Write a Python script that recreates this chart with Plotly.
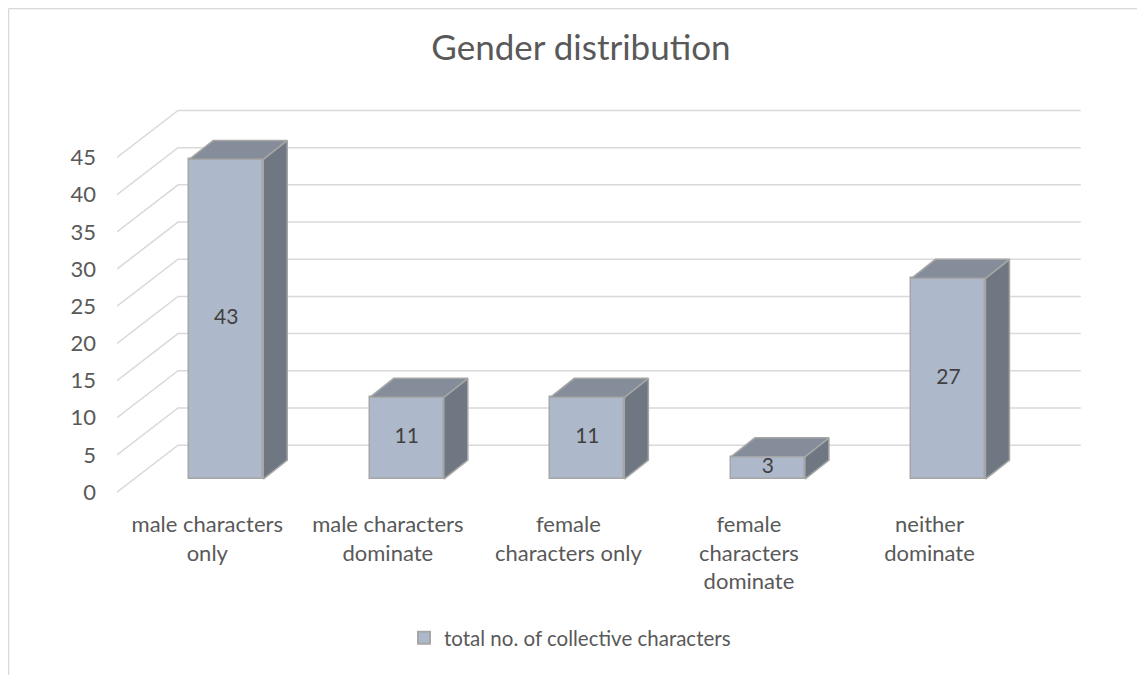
import plotly.graph_objects as go

# ---------------- data ----------------
categories = [
    "male characters<br>only",
    "male characters<br>dominate",
    "female<br>characters only",
    "female<br>characters<br>dominate",
    "neither<br>dominate",
]
values = [43, 11, 11, 3, 27]
series_name = "total no. of collective characters"
y_ticks = [0, 5, 10, 15, 20, 25, 30, 35, 40, 45]
title_text = "Gender distribution"

# ---------------- style / pseudo-3D geometry ----------------
FONT = "Lato"
TXT = "#595959"
FRONT = "#ADB9CA"
TOP = "#848D99"
SIDE = "#6F7782"
EDGE = "#A6A6A6"
GRID = "#D9D9D9"

W, H = 1145, 675
OFF = 8  # page body margin offset
ML, MR, MT, MB = 117 - OFF, 44 + OFF, 98 - OFF, 168 + OFF
X0, X1 = -0.5, 4.95
Y0, Y1 = -2, 53

WALL_DX, WALL_DY = 0.338, 6.32       # floor depth (front edge -> back wall)
BAR_SHIFT_X, BAR_BASE = 0.105, 1.75  # bar front plane position
BAR_W = 0.41
BAR_DX, BAR_DY = 0.133, 2.55         # bar depth

n = len(categories)
xs = list(range(n))
bx = [x + BAR_SHIFT_X for x in xs]

fig = go.Figure()

# gridlines: floor diagonal + back wall horizontal (axis decoration)
shapes = []
for v in y_ticks:
    path = (f"M {X0},{v} L {X0 + WALL_DX},{v + WALL_DY} "
            f"L {n - 0.5 + WALL_DX},{v + WALL_DY}")
    shapes.append(dict(type="path", path=path, xref="x", yref="y",
                       line=dict(color=GRID, width=1.5), layer="below"))


def px_to_paper_x(px):
    return (px - ML) / (W - ML - MR)


def px_to_paper_y(py):
    return (H - MB - py) / (H - MT - MB)


# chart border (top and left edges visible)
shapes.append(dict(type="line", xref="paper", yref="paper",
                   x0=px_to_paper_x(0.5), x1=px_to_paper_x(W + 5),
                   y0=px_to_paper_y(0.5), y1=px_to_paper_y(0.5),
                   line=dict(color=GRID, width=1.6), layer="below"))
shapes.append(dict(type="line", xref="paper", yref="paper",
                   x0=px_to_paper_x(0.5), x1=px_to_paper_x(0.5),
                   y0=px_to_paper_y(0.5), y1=px_to_paper_y(H + 5),
                   line=dict(color=GRID, width=1.6), layer="below"))

# front faces
fig.add_trace(go.Bar(
    x=bx, y=values, base=[BAR_BASE] * n, width=BAR_W,
    name=series_name,
    marker=dict(color=FRONT, line=dict(color=EDGE, width=1.5)),
    hoverinfo="skip", showlegend=True,
))

# side faces and top faces
side_x, side_y, top_x, top_y = [], [], [], []
for c, v in zip(bx, values):
    xl, xr = c - BAR_W / 2, c + BAR_W / 2
    yb, yt = BAR_BASE, BAR_BASE + v
    side_x += [xr, xr + BAR_DX, xr + BAR_DX, xr, xr, None]
    side_y += [yb, yb + BAR_DY, yt + BAR_DY, yt, yb, None]
    top_x += [xl, xl + BAR_DX, xr + BAR_DX, xr, xl, None]
    top_y += [yt, yt + BAR_DY, yt + BAR_DY, yt, yt, None]

fig.add_trace(go.Scatter(x=side_x, y=side_y, mode="lines", fill="toself",
                         fillcolor=SIDE, line=dict(color=EDGE, width=1.5),
                         hoverinfo="skip", showlegend=False))
fig.add_trace(go.Scatter(x=top_x, y=top_y, mode="lines", fill="toself",
                         fillcolor=TOP, line=dict(color=EDGE, width=1.5),
                         hoverinfo="skip", showlegend=False))

# data labels
fig.add_trace(go.Scatter(
    x=bx, y=[BAR_BASE + v / 2 for v in values], mode="text",
    text=[str(v) for v in values],
    textfont=dict(family=FONT, size=21, color="#404040"),
    hoverinfo="skip", showlegend=False,
))

fig.update_layout(
    width=W, height=H,
    margin=dict(l=ML, r=MR, t=MT, b=MB),
    paper_bgcolor="white", plot_bgcolor="white",
    font=dict(family=FONT, color=TXT, size=22),
    title=dict(text=title_text, x=(581 - OFF) / W, xref="container",
               xanchor="center",
               y=1 - (48 - OFF) / H, yref="container", yanchor="middle",
               font=dict(family=FONT, size=35, color=TXT)),
    shapes=shapes,
    showlegend=True,
    legend=dict(orientation="h", xref="container", yref="container",
                x=396 / W, xanchor="left", y=1 - (638 - OFF) / H,
                yanchor="middle",
                font=dict(family=FONT, size=20.5, color=TXT),
                itemsizing="constant", bgcolor="rgba(0,0,0,0)"),
    xaxis=dict(range=[X0, X1], tickvals=xs, ticktext=categories,
               showgrid=False, zeroline=False, showline=False,
               ticks="", ticklabelstandoff=2,
               tickfont=dict(family=FONT, size=22, color=TXT),
               fixedrange=True),
    yaxis=dict(range=[Y0, Y1], tickvals=y_ticks,
               showgrid=False, zeroline=False, showline=False,
               ticks="", ticklabelstandoff=20,
               tickfont=dict(family=FONT, size=22, color=TXT),
               fixedrange=True),
    bargap=0,
)

fig.write_html("out.html")
